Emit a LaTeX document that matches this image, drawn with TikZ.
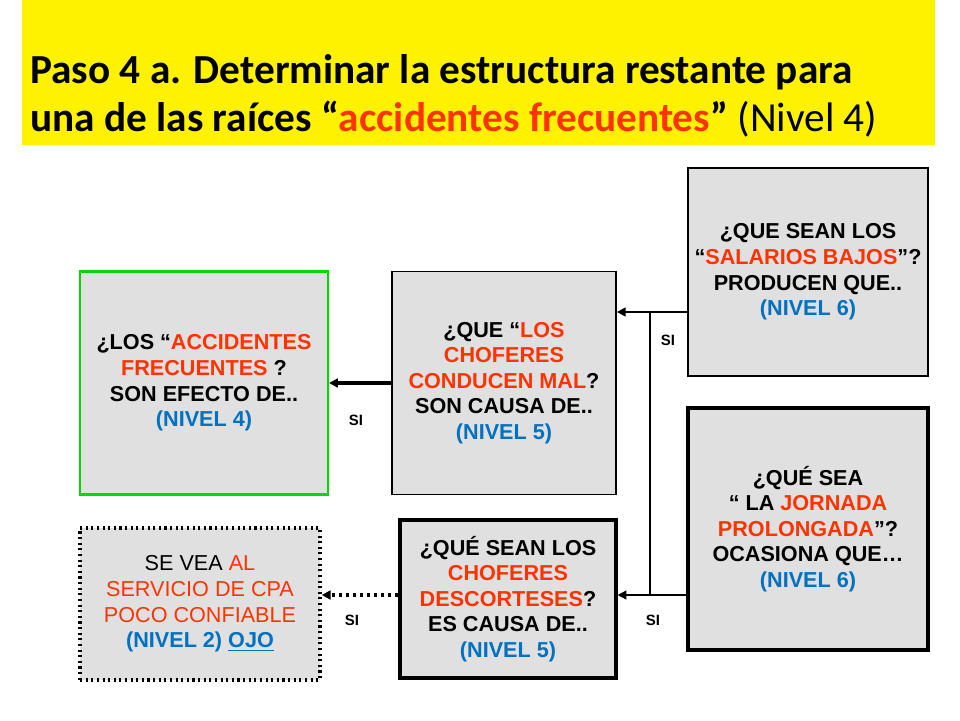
\documentclass[tikz,border=0pt]{standalone}
\usepackage{fontspec}
\setmainfont{Liberation Sans}
\newfontfamily\titlefont{Carlito}
\usepackage{tikz}
\usetikzlibrary{arrows.meta}
\definecolor{rojo}{HTML}{FF3300}
\definecolor{azul}{HTML}{0070C0}
\definecolor{gris}{HTML}{E0E0E0}
\tikzset{
  caja/.style={rectangle, draw, fill=gris, line width=1.2pt, align=center, font=\bfseries\fontsize{12.3}{14.6}\selectfont, inner sep=0pt},
  si/.style={font=\bfseries\fontsize{8.5}{10}\selectfont}
}
\begin{document}
\begin{tikzpicture}[x=0.02cm, y=-0.02cm]
	\useasboundingbox (0,0) rectangle (960,720);
	\fill[yellow] (22,0) rectangle (935,145);
	\node at (24,96) [anchor=west, align=left, font=\titlefont\fontsize{23.5}{27}\selectfont] (titulo)
	{\textbf{Paso 4 a. Determinar la estructura restante para}\\
	 \textbf{una de las ra\'ices  \textquotedblleft\textcolor{rojo}{accidentes frecuentes}\textquotedblright} (Nivel 4)};
	\node at (204,383) [caja, draw=green!85!black, minimum width=4.96cm, minimum height=4.46cm] (A)
	{¿LOS \textquotedblleft\textcolor{rojo}{ACCIDENTES}\\ \textcolor{rojo}{FRECUENTES} ?\\ SON EFECTO DE..\\ \textcolor{azul}{(NIVEL 4)}};
	\node at (504,383) [caja, line width=0.9pt, minimum width=4.48cm, minimum height=4.46cm] (B)
	{¿QUE \textquotedblleft\textcolor{rojo}{LOS}\\ \textcolor{rojo}{CHOFERES}\\ \textcolor{rojo}{CONDUCEN MAL}?\\ SON CAUSA DE..\\ \textcolor{azul}{(NIVEL 5)}};
	\node at (808,272) [caja, line width=0.9pt, minimum width=4.8cm, minimum height=4.16cm] (C)
	{¿QUE SEAN LOS\\ \textquotedblleft\textcolor{rojo}{SALARIOS BAJOS}\textquotedblright?\\ PRODUCEN QUE..\\ \textcolor{azul}{(NIVEL 6)}};
	\node at (808,529) [caja, line width=1.8pt, minimum width=4.8cm, minimum height=4.84cm] (D)
	{¿QUÉ SEA\\ \textquotedblleft{} LA \textcolor{rojo}{JORNADA}\\ \textcolor{rojo}{PROLONGADA}\textquotedblright?\\ OCASIONA QUE\dots\\ \textcolor{azul}{(NIVEL 6)}};
	\node at (508,599) [caja, line width=1.8pt, minimum width=4.32cm, minimum height=3.16cm] (E)
	{¿QUÉ SEAN LOS\\ \textcolor{rojo}{CHOFERES}\\ \textcolor{rojo}{DESCORTESES}?\\ ES CAUSA DE..\\ \textcolor{azul}{(NIVEL 5)}};
	\node at (200,604) [caja, dotted, line width=2pt, minimum width=4.8cm, minimum height=3.04cm, font=\fontsize{12.3}{14.6}\selectfont] (F)
	{SE VEA \textcolor{rojo}{AL}\\ \textcolor{rojo}{SERVICIO DE CPA}\\ \textcolor{rojo}{POCO CONFIABLE}\\ \textbf{\textcolor{azul}{(NIVEL 2) \underline{OJO}}}};
	\coordinate (j1) at (650,312);
	\coordinate (j2) at (650,595);
	\draw[-{Triangle[length=5pt,width=5pt]}, line width=2pt] (B.west) -- (A.east);
	\draw[-{Triangle[length=5pt,width=5pt]}, line width=0.9pt] (C.west |- j1) -- (B.east |- j1);
	\draw[-{Triangle[length=5pt,width=5pt]}, line width=0.9pt] (D.west |- j2) -- (E.east |- j2);
	\draw[line width=0.9pt] (j1) -- (j2);
	\draw[-{Triangle[length=5pt,width=5pt]}, line width=2pt, dotted] (E.west |- j2) -- (F.east |- j2);
	\node at (356,420) [si] (s1) {SI};
	\node at (668,340) [si] (s2) {SI};
	\node at (653,620) [si] (s3) {SI};
	\node at (352,620) [si] (s4) {SI};
\end{tikzpicture}
\end{document}
